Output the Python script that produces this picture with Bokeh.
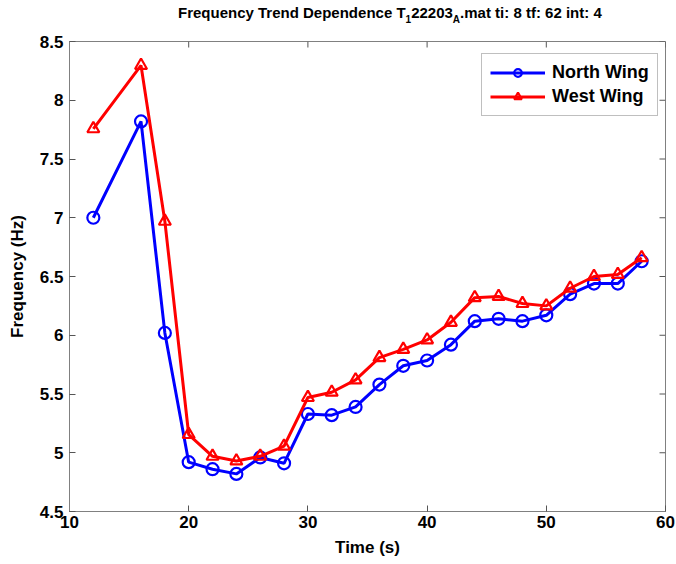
import math
from bokeh.plotting import figure
from bokeh.models import Range1d, FixedTicker, Legend, LegendItem, Div
from bokeh.layouts import column
from bokeh.embed import file_html
from bokeh.resources import INLINE

time_s = [12, 16, 18, 20, 22, 24, 26, 28, 30, 32, 34, 36, 38, 40, 42, 44, 46, 48, 50, 52, 54, 56, 58]
north_wing = [7.00, 7.82, 6.02, 4.92, 4.86, 4.82, 4.96, 4.91, 5.33, 5.32, 5.39, 5.58, 5.74, 5.785,
              5.92, 6.12, 6.14, 6.12, 6.17, 6.35, 6.44, 6.44, 6.63]
west_wing = [7.757, 8.296, 6.97, 5.155, 4.97, 4.93, 4.97, 5.056, 5.47, 5.515, 5.62, 5.81, 5.88, 5.96,
             6.11, 6.32, 6.33, 6.27, 6.25, 6.40, 6.50, 6.517, 6.66]
x_lim = [10, 60]
y_lim = [4.5, 8.5]
x_ticks = [10, 20, 30, 40, 50, 60]
y_ticks = [4.5, 5, 5.5, 6, 6.5, 7, 7.5, 8, 8.5]
title_parts = ["Frequency Trend Dependence T", "1", "22203", "A", ".mat ti: 8 tf: 62 int: 4"]

FONT = "Liberation Sans"
AX_COLOR = "#808080"
TICK_COLOR = "#555555"
TITLE_H = 28

p = figure(width=676, height=564 - TITLE_H, output_backend="svg", toolbar_location=None,
           title=None, x_range=Range1d(*x_lim), y_range=Range1d(*y_lim),
           min_border_left=69, min_border_right=11, min_border_top=41 - TITLE_H,
           min_border_bottom=53,
           x_axis_label="Time (s)", y_axis_label="Frequency (Hz)")
p.xgrid.visible = False
p.ygrid.visible = False
p.outline_line_color = AX_COLOR
p.outline_line_width = 1
p.background_fill_color = "white"
p.border_fill_color = "white"

for ax, ticks in ((p.xaxis[0], x_ticks), (p.yaxis[0], y_ticks)):
    ax.ticker = FixedTicker(ticks=ticks)
    ax.axis_line_color = AX_COLOR
    ax.major_tick_line_color = TICK_COLOR
    ax.major_tick_in = 6
    ax.major_tick_out = 0
    ax.minor_tick_line_color = None
    ax.major_label_text_font = FONT
    ax.major_label_text_font_style = "bold"
    ax.major_label_text_color = "black"
    ax.major_label_text_font_size = "17px"
    ax.axis_label_text_font = FONT
    ax.axis_label_text_font_style = "bold"
    ax.axis_label_text_font_size = "17px"
    ax.axis_label_text_color = "black"
p.xaxis[0].major_label_standoff = 4
p.xaxis[0].axis_label_standoff = 7
p.yaxis[0].major_label_standoff = 6
p.yaxis[0].axis_label_standoff = 10

# mirrored inward ticks on the top and right edges of the box
p.ray(x=x_ticks, y=[y_lim[1]] * len(x_ticks), length=6, length_units="screen",
      angle=-math.pi / 2, line_color=TICK_COLOR, line_width=1)
p.ray(x=[x_lim[1]] * len(y_ticks), y=y_ticks, length=6, length_units="screen",
      angle=math.pi, line_color=TICK_COLOR, line_width=1)

bl = p.line(time_s, north_wing, line_color="#0000ff", line_width=3)
bm = p.scatter(time_s, north_wing, marker="circle", size=12, line_color="#0000ff",
               line_width=2.2, fill_alpha=0)
rl = p.line(time_s, west_wing, line_color="#ff0000", line_width=3)
rm = p.scatter(time_s, west_wing, marker="triangle", size=12, line_color="#ff0000",
               line_width=2.2, fill_alpha=0)

legend = Legend(items=[LegendItem(label="North Wing", renderers=[bl, bm]),
                       LegendItem(label="West Wing", renderers=[rl, rm])],
                location=(412, 395))
legend.label_text_font = FONT
legend.label_text_font_style = "bold"
legend.label_text_font_size = "18px"
legend.label_text_color = "black"
legend.glyph_width = 55
legend.glyph_height = 19
legend.label_height = 19
legend.label_standoff = 7
legend.spacing = 3
legend.padding = 8
legend.margin = 0
legend.border_line_color = AX_COLOR
legend.border_line_width = 1
legend.background_fill_color = "white"
p.add_layout(legend, "center")

# Title with real subscripts
sub = '<span style="font-size:10px;position:relative;top:5px;">{}</span>'
title_html = (
    '<div style="padding-left:178px;padding-top:4px;white-space:nowrap;'
    f"font-family:'{FONT}';font-weight:bold;font-size:15px;line-height:18px;color:black;\">"
    + title_parts[0] + sub.format(title_parts[1]) + title_parts[2]
    + sub.format(title_parts[3]) + title_parts[4] + "</div>"
)
title_div = Div(text=title_html, width=676, height=TITLE_H, margin=0,
                styles={"background-color": "white"})

layout = column(title_div, p, spacing=0)
open("out.html", "w").write(file_html(layout, INLINE))
